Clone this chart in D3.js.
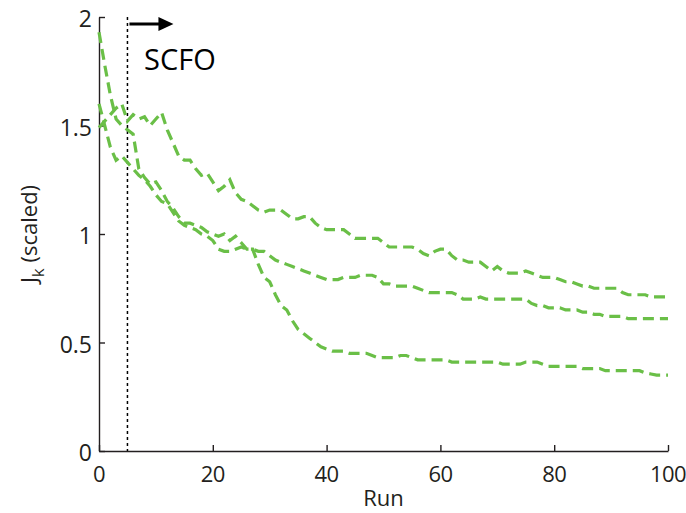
<!DOCTYPE html>
<html>
<head>
<meta charset="utf-8">
<script src="https://cdn.jsdelivr.net/npm/d3@7"></script>
<style>
  html, body { margin: 0; padding: 0; background: #fff; }
  svg { display: block; font-family: "Open Sans", "Noto Sans", sans-serif; }
</style>
</head>
<body>
<div id="chart"></div>
<script>
// cost per run, three repeats (scaled)
const runs = d3.range(0, 101);
const topRun = [1.49,1.52,1.55,1.58,1.60,1.52,1.55,1.53,1.54,1.50,1.53,1.56,1.48,1.42,1.36,1.34,1.34,1.30,1.27,1.28,
  1.24,1.20,1.22,1.25,1.19,1.16,1.15,1.13,1.11,1.10,1.11,1.11,1.11,1.09,1.07,1.07,1.08,1.08,1.05,1.03,
  1.02,1.02,1.02,1.02,1.00,0.98,0.98,0.98,0.98,0.98,0.96,0.94,0.94,0.94,0.94,0.94,0.93,0.91,0.90,0.92,
  0.93,0.93,0.90,0.88,0.88,0.87,0.87,0.87,0.85,0.83,0.85,0.83,0.82,0.82,0.82,0.83,0.82,0.81,0.80,0.80,
  0.80,0.79,0.78,0.78,0.77,0.76,0.76,0.75,0.75,0.75,0.75,0.75,0.73,0.72,0.72,0.72,0.72,0.71,0.71,0.71,0.71];
const midRun = [1.93,1.78,1.64,1.53,1.50,1.48,1.46,1.30,1.26,1.23,1.24,1.20,1.15,1.12,1.08,1.05,1.05,1.04,1.03,1.01,
  1.00,0.99,1.00,0.97,0.99,0.96,0.93,0.93,0.92,0.92,0.90,0.88,0.87,0.86,0.85,0.84,0.83,0.82,0.81,0.80,
  0.79,0.79,0.79,0.80,0.80,0.80,0.81,0.81,0.81,0.80,0.77,0.77,0.76,0.76,0.76,0.76,0.75,0.74,0.73,0.73,
  0.73,0.73,0.73,0.72,0.70,0.70,0.70,0.71,0.70,0.70,0.70,0.70,0.70,0.70,0.70,0.70,0.68,0.67,0.67,0.66,
  0.66,0.66,0.65,0.65,0.65,0.64,0.64,0.63,0.63,0.62,0.62,0.62,0.62,0.61,0.61,0.61,0.61,0.61,0.61,0.61,0.61];
const lowRun = [1.60,1.50,1.40,1.34,1.36,1.33,1.30,1.27,1.25,1.22,1.18,1.15,1.14,1.10,1.06,1.04,1.03,1.02,1.00,0.99,
  0.97,0.93,0.92,0.92,0.93,0.94,0.93,0.93,0.86,0.80,0.78,0.72,0.67,0.65,0.60,0.56,0.54,0.52,0.50,0.48,
  0.47,0.46,0.46,0.46,0.45,0.45,0.45,0.45,0.44,0.43,0.43,0.43,0.43,0.44,0.44,0.43,0.42,0.42,0.42,0.42,
  0.42,0.42,0.41,0.41,0.41,0.41,0.41,0.41,0.41,0.41,0.41,0.40,0.40,0.40,0.40,0.41,0.41,0.41,0.40,0.39,
  0.39,0.39,0.39,0.39,0.39,0.38,0.38,0.38,0.38,0.37,0.37,0.37,0.37,0.37,0.37,0.37,0.36,0.355,0.35,0.35,0.35];
const series = [topRun, midRun, lowRun];
const xTicks = [0, 20, 40, 60, 80, 100];
const yTicks = [0, 0.5, 1, 1.5, 2];
const scfoStart = 5; // SCFO switched on after this run

const width = 686, height = 513;
const ink = "#231f20";
const green = "#6abf47";

const svg = d3.select("#chart").append("svg")
    .attr("width", width)
    .attr("height", height);

const x = d3.scaleLinear().domain([0, 100]).range([99, 668]);
const y = d3.scaleLinear().domain([0, 2]).range([451, 17]);

// axes (ticks point inwards, only left + bottom)
svg.append("g")
    .attr("transform", `translate(0,${y(0)})`)
    .call(d3.axisTop(x).tickValues(xTicks).tickSize(6).tickSizeOuter(0).tickFormat(""));
svg.append("g")
    .attr("transform", `translate(${x(0)},0)`)
    .call(d3.axisRight(y).tickValues(yTicks).tickSize(6).tickSizeOuter(0).tickFormat(""));
svg.selectAll(".domain, .tick line")
    .attr("stroke", ink)
    .attr("stroke-width", 1.4);

svg.append("g").selectAll("text")
    .data(xTicks)
    .join("text")
    .attr("x", d => x(d))
    .attr("y", 482)
    .attr("text-anchor", "middle")
    .attr("font-size", 22)
    .attr("letter-spacing", "-0.6px")
    .attr("fill", ink)
    .text(d => d);

svg.append("g").selectAll("text")
    .data(yTicks)
    .join("text")
    .attr("x", 92)
    .attr("y", d => y(d) + 10)
    .attr("text-anchor", "end")
    .attr("font-size", 23)
    .attr("fill", ink)
    .text(d => d);

svg.append("text")
    .attr("x", x(50))
    .attr("y", 506)
    .attr("text-anchor", "middle")
    .attr("font-size", 22)
    .attr("fill", ink)
    .text("Run");

const yl = svg.append("text")
    .attr("transform", `translate(37,${y(1)}) rotate(-90)`)
    .attr("text-anchor", "middle")
    .attr("font-size", 22)
    .attr("fill", ink);
yl.append("tspan").text("J");
yl.append("tspan").attr("dy", 7).attr("font-size", 17).text("k");
yl.append("tspan").attr("dy", -7).text(" (scaled)");

// SCFO marker
svg.append("line")
    .attr("x1", x(scfoStart)).attr("x2", x(scfoStart))
    .attr("y1", y(2)).attr("y2", y(0))
    .attr("stroke", "#000")
    .attr("stroke-width", 1.5)
    .attr("stroke-dasharray", "3,3");

const ay = 24;
svg.append("line")
    .attr("x1", x(scfoStart) + 2).attr("x2", x(scfoStart) + 34)
    .attr("y1", ay).attr("y2", ay)
    .attr("stroke", "#000")
    .attr("stroke-width", 3);
svg.append("path")
    .attr("d", `M${x(scfoStart) + 46},${ay} L${x(scfoStart) + 31},${ay - 7} L${x(scfoStart) + 31},${ay + 7} Z`)
    .attr("fill", "#000");

svg.append("text")
    .attr("x", 144)
    .attr("y", 70)
    .attr("font-size", 29)
    .attr("fill", "#000")
    .text("SCFO");

// curves
const line = d3.line()
    .x((d, i) => x(runs[i]))
    .y(d => y(d));

svg.append("g").selectAll("path")
    .data(series)
    .join("path")
    .attr("d", line)
    .attr("fill", "none")
    .attr("stroke", green)
    .attr("stroke-width", 3.2)
    .attr("stroke-dasharray", "11,6");
</script>
</body>
</html>
